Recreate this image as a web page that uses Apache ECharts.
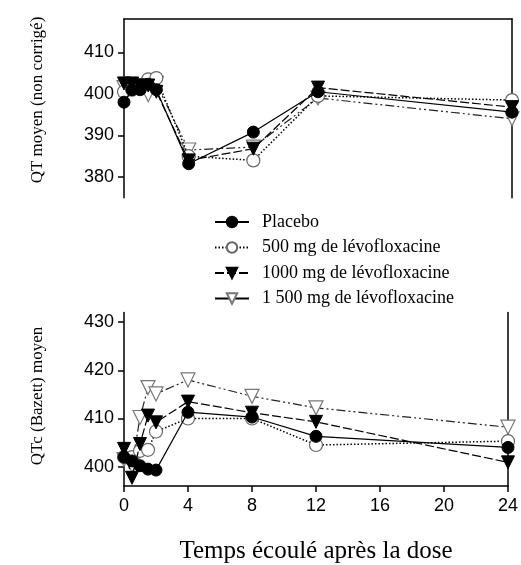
<!DOCTYPE html>
<html>
<head>
<meta charset="utf-8">
<script src="https://cdn.jsdelivr.net/npm/echarts@6/dist/echarts.min.js"></script>
<style>html,body{margin:0;padding:0;background:#fff;}#c{width:521px;height:565px;}</style>
</head>
<body>
<div id="c"></div>
<script>
// Time after dose (h)
const times = [0, 0.5, 1, 1.5, 2, 4, 8, 12, 24];
const seriesNames = ['Placebo', '500 mg de lévofloxacine', '1000 mg de lévofloxacine', '1 500 mg de lévofloxacine'];
// Mean QT (uncorrected)
const qtPlacebo = [398, 401, 401, 402.3, 401, 383.2, 390.8, 400.5, 395.6];
const qt500     = [400.5, 401, 402, 403.5, 403.8, 385, 384, 399.5, 398.5];
const qt1000    = [402.5, 402.5, 402, 402, 400.5, 384, 386.8, 401.5, 396.8];
const qt1500    = [401.5, 401.5, 402, 399.8, 402.5, 386.5, 387.2, 399, 394];
// Mean QTc (Bazett)
const qtcPlacebo = [402, 401.2, 400.2, 399.5, 399.3, 411.3, 410.3, 406.3, 404];
const qtc500     = [402, 402, 403.3, 403.5, 407.3, 410, 410, 404.5, 405.3];
const qtc1000    = [403.7, 397.7, 404.7, 410.6, 409.2, 413.5, 411.2, 409.3, 400.9];
const qtc1500    = [401.5, 400.3, 410.2, 416.4, 415.1, 418, 414.6, 412.2, 408.2];
// Tick labels
const qtTicks = [380, 390, 400, 410];
const qtcTicks = [400, 410, 420, 430];
const xTicks = [0, 4, 8, 12, 16, 20, 24];

const SANS = 'Liberation Sans';
const SERIF = 'Liberation Serif';
const pairs = vals => times.map((t, i) => [t, vals[i]]);

const styles = [
  {symbol: 'circle', symbolSize: 12, symbolRotate: 0, item: {color: '#000', borderColor: '#000', borderWidth: 1}, line: {color: '#000', width: 1.2, type: 'solid'}},
  {symbol: 'circle', symbolSize: 13, symbolRotate: 0, item: {color: '#fff', borderColor: '#666', borderWidth: 1.2}, line: {color: '#000', width: 1.5, type: [1.5, 2]}},
  {symbol: 'triangle', symbolSize: 13, symbolRotate: 180, item: {color: '#000', borderColor: '#000', borderWidth: 1}, line: {color: '#000', width: 1.2, type: [9, 3]}},
  {symbol: 'triangle', symbolSize: 14, symbolRotate: 180, item: {color: '#fff', borderColor: '#777', borderWidth: 1.2}, line: {color: '#222', width: 1.2, type: [9, 3, 2, 3, 2, 3]}}
];

function mk(name, vals, xi, yi, s, z) {
  return {
    type: 'line', name: name, data: pairs(vals), xAxisIndex: xi, yAxisIndex: yi,
    symbol: s.symbol, symbolSize: s.symbolSize, symbolRotate: s.symbolRotate,
    showAllSymbol: true, itemStyle: s.item, lineStyle: s.line, z: z, animation: false,
    emphasis: {disabled: true}
  };
}

const topVals = [qtPlacebo, qt500, qt1000, qt1500];
const botVals = [qtcPlacebo, qtc500, qtc1000, qtc1500];
const series = [];
[3, 1, 2, 0].forEach((k, j) => {
  series.push(mk(seriesNames[k], topVals[k], 0, 0, styles[k], 2 + j));
  series.push(mk(seriesNames[k], botVals[k], 2, 2, styles[k], 2 + j));
});

const axisLineBlack = {show: true, onZero: false, lineStyle: {color: '#000', width: 1.5}};
const noLine = {show: false, onZero: false};
const gTop = {left: 124, top: 19, width: 388, height: 178.8};
const gBot = {left: 124, top: 312.4, width: 388, height: 173.9};

const option = {
  animation: false,
  backgroundColor: '#fff',
  grid: [gTop, gBot],
  legend: {
    orient: 'vertical', left: 209, top: 208, itemGap: 7.5, itemWidth: 34, itemHeight: 13,
    textStyle: {fontFamily: SERIF, fontSize: 18, color: '#000', padding: [0, 0, 0, 8]},
    selectedMode: false,
    data: [
      {name: seriesNames[0]},
      {name: seriesNames[1]},
      {name: seriesNames[2]},
      {name: seriesNames[3], lineStyle: {type: 'solid', color: '#000'}}
    ]
  },
  xAxis: [
    {type: 'value', gridIndex: 0, min: 0, max: 24, interval: 4, position: 'bottom',
     axisLine: noLine, axisTick: {show: false}, axisLabel: {show: false}, splitLine: {show: false}},
    {type: 'value', gridIndex: 0, min: 0, max: 24, interval: 4, position: 'top',
     axisLine: axisLineBlack, axisTick: {show: false}, axisLabel: {show: false}, splitLine: {show: false}},
    {type: 'value', gridIndex: 1, min: 0, max: 24, interval: 4, position: 'bottom',
     axisLine: axisLineBlack,
     axisTick: {show: true, inside: false, length: 6, lineStyle: {color: '#000', width: 1.5}, customValues: xTicks},
     axisLabel: {show: true, margin: 11, fontFamily: SANS, fontSize: 18, color: '#000', customValues: xTicks},
     splitLine: {show: false},
     name: 'Temps écoulé après la dose', nameLocation: 'middle', nameGap: 53,
     nameTextStyle: {fontFamily: SERIF, fontSize: 25, color: '#000'}}
  ],
  yAxis: [
    {type: 'value', gridIndex: 0, min: 375, max: 418, position: 'left',
     axisLine: axisLineBlack,
     axisTick: {show: true, length: 6, lineStyle: {color: '#000', width: 1.5}, customValues: qtTicks},
     axisLabel: {show: true, margin: 10, fontFamily: SANS, fontSize: 18, color: '#000', customValues: qtTicks},
     splitLine: {show: false}},
    {type: 'value', gridIndex: 0, min: 375, max: 418, position: 'right',
     axisLine: axisLineBlack, axisTick: {show: false}, axisLabel: {show: false}, splitLine: {show: false}},
    {type: 'value', gridIndex: 1, min: 396, max: 432, position: 'left',
     axisLine: axisLineBlack,
     axisTick: {show: true, length: 6, lineStyle: {color: '#000', width: 1.5}, customValues: qtcTicks},
     axisLabel: {show: true, margin: 10, fontFamily: SANS, fontSize: 18, color: '#000', customValues: qtcTicks},
     splitLine: {show: false}},
    {type: 'value', gridIndex: 1, min: 396, max: 432, position: 'right',
     axisLine: axisLineBlack, axisTick: {show: false}, axisLabel: {show: false}, splitLine: {show: false}}
  ],
  graphic: [
    {type: 'text', x: 38, y: 100, rotation: Math.PI / 2,
     style: {text: 'QT moyen (non corrigé)', fontFamily: SERIF, fontSize: 17, fill: '#000', align: 'center', verticalAlign: 'middle'}},
    {type: 'text', x: 38, y: 396, rotation: Math.PI / 2,
     style: {text: 'QTc (Bazett) moyen', fontFamily: SERIF, fontSize: 17, fill: '#000', align: 'center', verticalAlign: 'middle'}}
  ],
  series: series
};

const chart = echarts.init(document.getElementById('c'), null, {renderer: 'canvas'});
chart.setOption(option);
</script>
</body>
</html>
